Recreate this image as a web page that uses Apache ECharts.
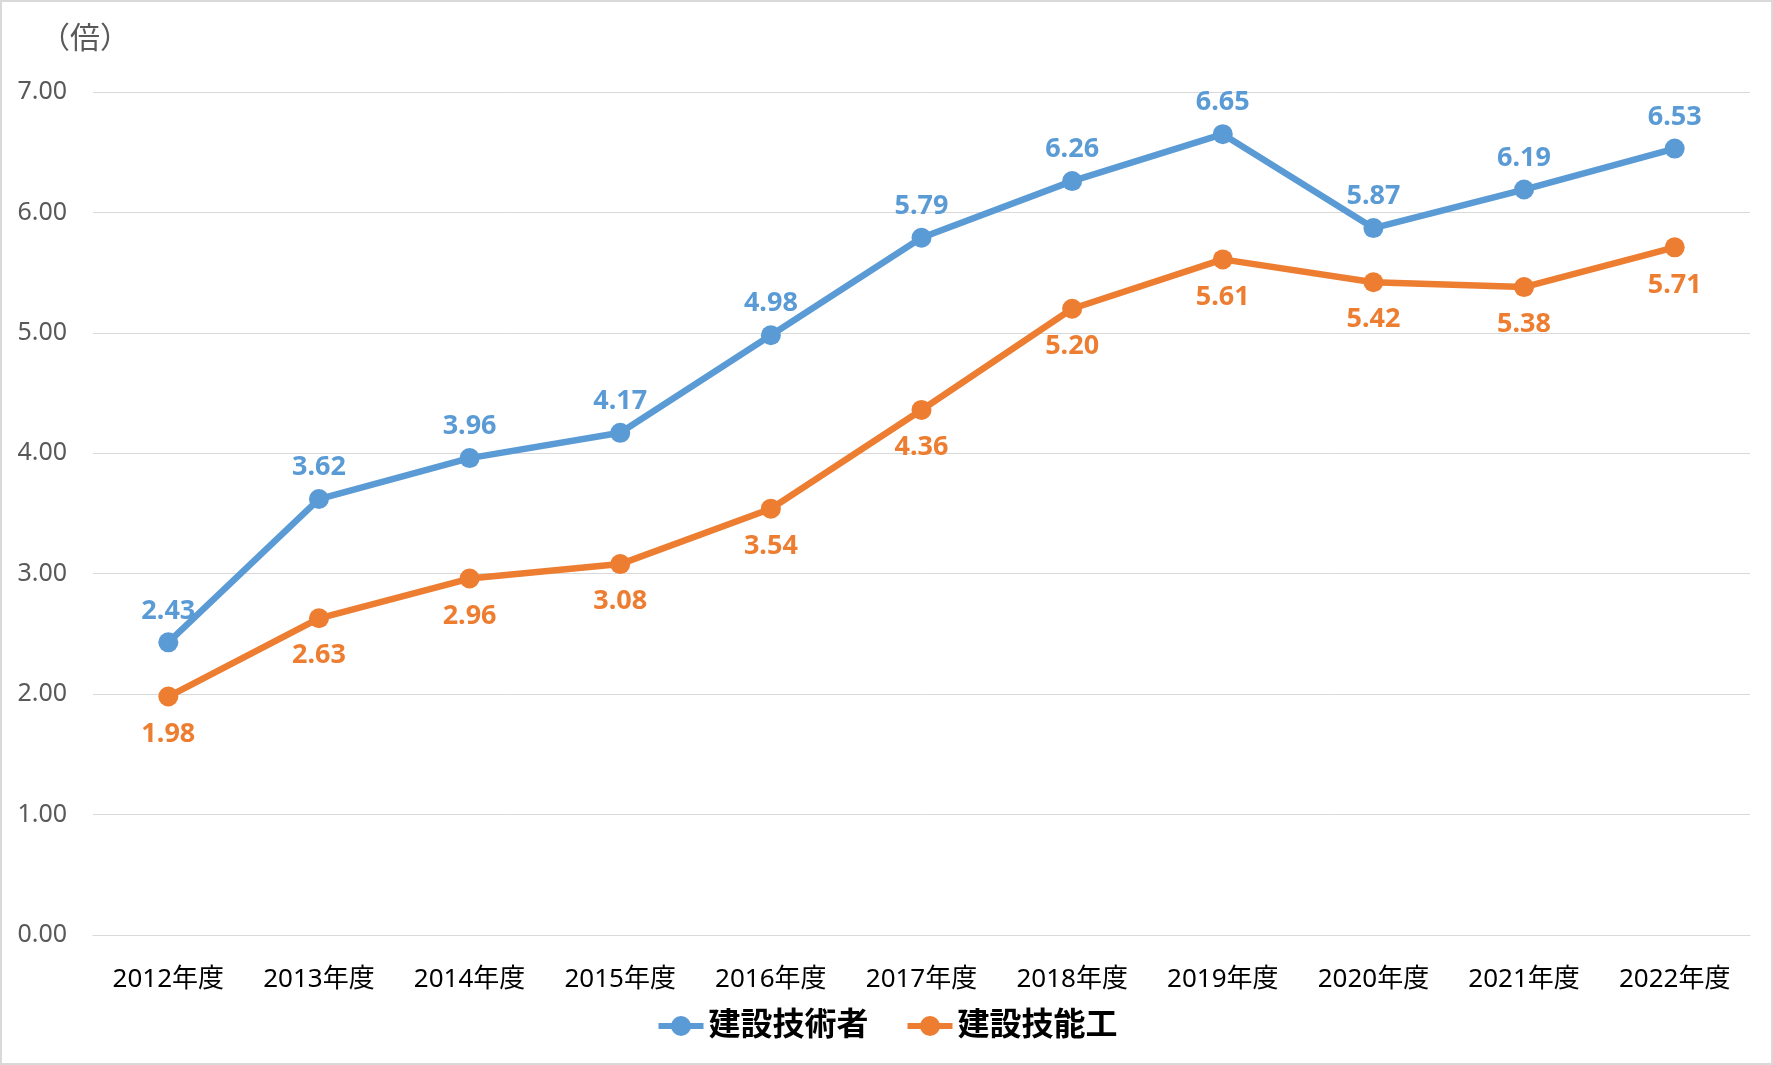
<!DOCTYPE html>
<html><head><meta charset="utf-8">
<script src="https://cdn.jsdelivr.net/npm/echarts@6/dist/echarts.min.js"></script>
<style>html,body{margin:0;padding:0;background:#fff;}#c{position:absolute;left:0;top:0;width:1773px;height:1065px;}</style>
</head><body><div id="c"></div>
<script>
const categories = ['2012年度','2013年度','2014年度','2015年度','2016年度','2017年度','2018年度','2019年度','2020年度','2021年度','2022年度'];
const engineers = [2.43, 3.62, 3.96, 4.17, 4.98, 5.79, 6.26, 6.65, 5.87, 6.19, 6.53];
const workers = [1.98, 2.63, 2.96, 3.08, 3.54, 4.36, 5.20, 5.61, 5.42, 5.38, 5.71];
const seriesNames = ['建設技術者', '建設技能工'];
const unitLabel = '（倍）';

const FONT = "'Noto Sans', 'Noto Sans CJK JP', sans-serif";
const chart = echarts.init(document.getElementById('c'), null, {renderer: 'canvas'});
chart.setOption({
  animation: false,
  backgroundColor: '#fff',
  textStyle: {fontFamily: FONT},
  graphic: [
    {type: 'rect', shape: {x: 1, y: 1, width: 1771, height: 1063}, style: {fill: 'none', stroke: '#d9d9d9', lineWidth: 2}, silent: true},
    {type: 'text', left: 40, top: 24, style: {text: unitLabel, font: "30px " + FONT, fill: '#595959'}}
  ],
  grid: {left: 93, right: 23, top: 92, bottom: 130, containLabel: false},
  legend: {
    bottom: 18, left: 'center',
    itemWidth: 45, itemHeight: 25, itemGap: 36,
    lineStyle: {width: 6},
    textStyle: {fontSize: 32, fontWeight: 'bold', color: '#000', fontFamily: FONT},
    data: seriesNames
  },
  xAxis: {
    type: 'category', data: categories, boundaryGap: true,
    axisLine: {lineStyle: {color: '#d9d9d9', width: 1}},
    axisTick: {show: false},
    axisLabel: {color: '#000', fontSize: 26, margin: 32, fontFamily: FONT}
  },
  yAxis: {
    type: 'value', min: 0, max: 7, interval: 1,
    axisLine: {show: false}, axisTick: {show: false},
    splitLine: {lineStyle: {color: '#d9d9d9', width: 1}},
    axisLabel: {color: '#595959', fontSize: 25, margin: 26, fontFamily: FONT, formatter: v => v.toFixed(2)}
  },
  series: [
    {
      name: seriesNames[0], type: 'line', data: engineers,
      symbol: 'circle', symbolSize: 20,
      lineStyle: {color: '#5B9BD5', width: 6.5},
      itemStyle: {color: '#5B9BD5'},
      label: {show: true, position: 'top', distance: 8, color: '#5B9BD5', fontSize: 27, fontWeight: 'bold', fontFamily: FONT, formatter: p => p.value.toFixed(2)}
    },
    {
      name: seriesNames[1], type: 'line', data: workers,
      symbol: 'circle', symbolSize: 20,
      lineStyle: {color: '#ED7D31', width: 6.5},
      itemStyle: {color: '#ED7D31'},
      label: {show: true, position: 'bottom', distance: 14, color: '#ED7D31', fontSize: 27, fontWeight: 'bold', fontFamily: FONT, formatter: p => p.value.toFixed(2)}
    }
  ]
});
</script></body></html>
